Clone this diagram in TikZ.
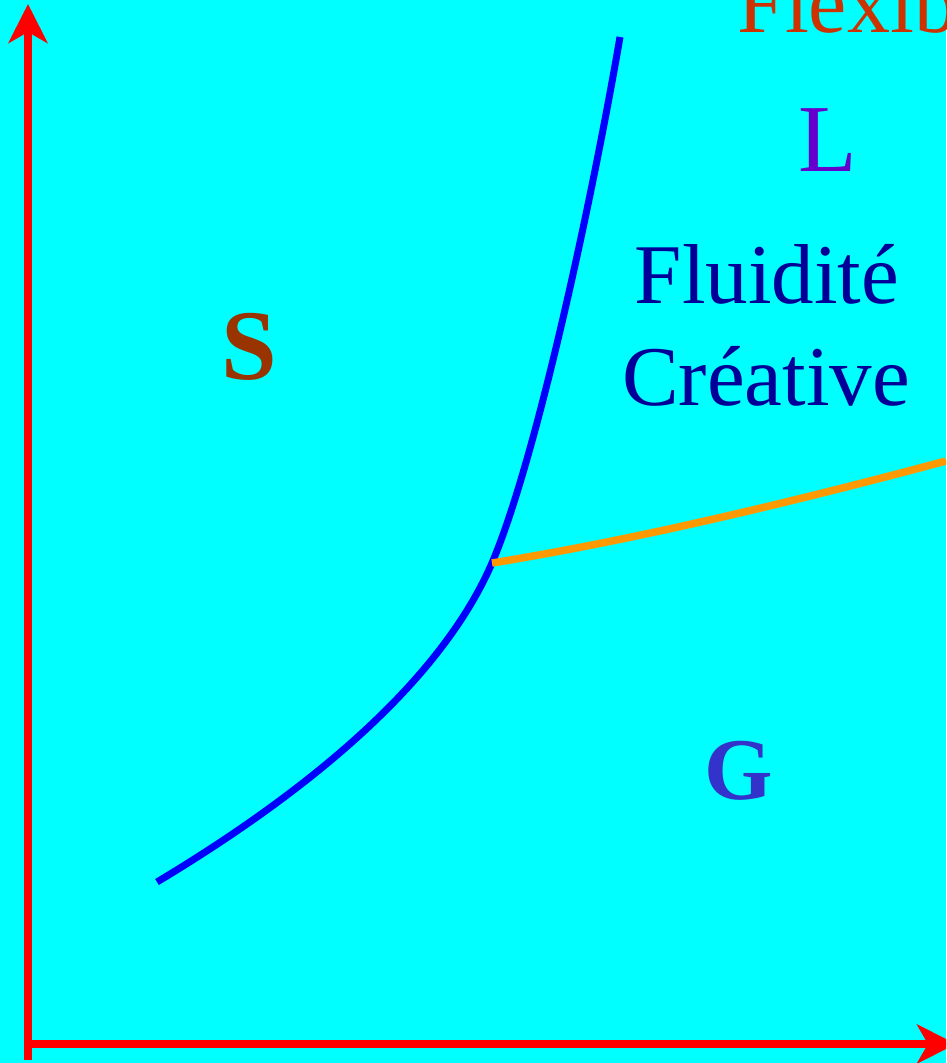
\documentclass[tikz,border=0pt]{standalone}
\usepackage{fontspec}
\setmainfont{Liberation Serif}
\usepackage{xcolor}
\usetikzlibrary{arrows.meta, positioning}
\definecolor{bgcyan}{HTML}{00FFFF}
\definecolor{axisred}{HTML}{FF0000}
\definecolor{curveblue}{HTML}{0000FF}
\definecolor{curveorange}{HTML}{FF9900}
\definecolor{flexred}{HTML}{CC3300}
\definecolor{lpurple}{HTML}{6600CC}
\definecolor{sbrown}{HTML}{993300}
\definecolor{gblue}{HTML}{3333CC}
\definecolor{fluidblue}{HTML}{000099}
\tikzset{
    phasediagram/.style={x=1pt, y=-1pt},
    axisline/.style={draw=axisred, line width=8pt, -{Stealth[length=39pt, width=39pt, inset=11pt]}},
    boundary/.style={draw=curveblue, line width=7pt},
    branchline/.style={draw=curveorange, line width=7.5pt},
    % region labels, placed by their baseline
    region/.style={anchor=base, inner sep=0pt},
}

\begin{document}
\begin{tikzpicture}[phasediagram]
    \useasboundingbox (0,0) rectangle (946,1063);
    \fill[bgcyan] (0,0) rectangle (946,1063);
    \clip (0,0) rectangle (946,1063);

    % axes
    \coordinate (ybot) at (28,1060);
    \coordinate (ytop) at (28,4);
    \coordinate (xleft) at (24,1044);
    \coordinate (xright) at (956,1044);
    \draw[axisline] (ybot) -- (ytop);
    \draw[axisline] (xleft) -- (xright);

    % phase boundaries
    \coordinate (start) at (157,882);
    \coordinate (knee) at (492,563);
    \coordinate (top) at (620,37);
    \coordinate (branchend) at (946,461);
    \draw[boundary] (start) .. controls (307,792) and (440,683) .. (knee)
        .. controls (536,460) and (592,200) .. (top);
    \draw[branchline] (knee) .. controls (640,539) and (800,500) .. (branchend);

    % labels
    \node[region, anchor=base west, text=flexred, font=\fontsize{86}{100}\selectfont] (flex) at (737,32) {Flexibilité};
    \node[region, text=lpurple, font=\fontsize{96}{110}\selectfont] (lab-l) at (828,171) {L};
    \node[region, text=fluidblue, font=\fontsize{85}{102}\selectfont] (fluid) at (767,303) {Fluidité};
    \node[region, text=fluidblue, font=\fontsize{85}{102}\selectfont] (creat) at (766,405) {Créative};
    \node[region, text=sbrown, font=\bfseries\fontsize{100}{110}\selectfont] (lab-s) at (249,379) {S};
    \node[region, text=gblue, font=\bfseries\fontsize{88}{100}\selectfont] (lab-g) at (739,799) {G};
\end{tikzpicture}
\end{document}
